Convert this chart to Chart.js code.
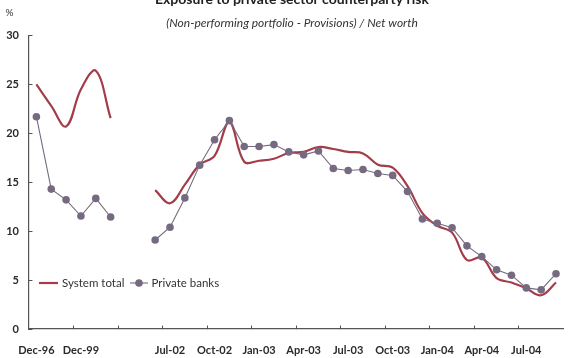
<!DOCTYPE html>
<html>
<head>
<meta charset="utf-8">
<script src="https://cdn.jsdelivr.net/npm/chart.js@4/dist/chart.umd.min.js"></script>
<style>
  html, body { margin: 0; padding: 0; background: #fff; overflow: hidden; }
  #wrap { position: relative; width: 574px; height: 358px; }
</style>
</head>
<body>
<div id="wrap"><canvas id="chart" width="574" height="358"></canvas></div>
<script>
// Annual year-end observations, then a spacer, then monthly observations
const categories = [
  'Dec-96', 'Dec-97', 'Dec-98', 'Dec-99', 'Dec-00', 'Dec-01', '', '',
  'Jun-02', 'Jul-02', 'Aug-02', 'Sep-02', 'Oct-02', 'Nov-02', 'Dec-02',
  'Jan-03', 'Feb-03', 'Mar-03', 'Apr-03', 'May-03', 'Jun-03',
  'Jul-03', 'Aug-03', 'Sep-03', 'Oct-03', 'Nov-03', 'Dec-03',
  'Jan-04', 'Feb-04', 'Mar-04', 'Apr-04', 'May-04', 'Jun-04',
  'Jul-04', 'Aug-04', 'Sep-04'
];

const systemTotal = [
  25.0, 22.8, 20.7, 24.5, 26.4, 21.55, null, null,
  14.2, 12.85, 14.75, 16.8, 17.7, 21.15, 17.1,
  17.2, 17.4, 18.0, 18.1, 18.6, 18.4,
  18.1, 17.95, 16.8, 16.5, 14.6, 11.85,
  10.55, 9.85, 7.05, 7.3, 5.2, 4.75,
  4.15, 3.45, 4.75
];

const privateBanks = [
  21.7, 14.3, 13.2, 11.55, 13.35, 11.45, null, null,
  9.1, 10.4, 13.4, 16.75, 19.35, 21.3, 18.65,
  18.65, 18.85, 18.1, 17.8, 18.2, 16.4,
  16.2, 16.3, 15.9, 15.7, 14.05, 11.25,
  10.8, 10.35, 8.5, 7.4, 6.05, 5.5,
  4.2, 4.0, 5.65
];

const seriesNames = ['System total', 'Private banks'];
const yTicks = [0, 5, 10, 15, 20, 25, 30];

const titleText = 'Exposure to private sector counterparty risk';
const subtitleText = '(Non-performing portfolio - Provisions) / Net worth';
const unitText = '%';

const FONT = "Lato, 'Open Sans', 'DejaVu Sans', sans-serif";
const RED = '#a43d4a';
const PURPLE = '#766a80';
const AXIS = '#555555';
const TEXT = '#2a2a2a';

// Heading, unit marker and the in-plot legend
const annotations = {
  id: 'annotations',
  afterDraw(chart) {
    const ctx = chart.ctx;
    ctx.save();
    ctx.fillStyle = '#222';
    ctx.textAlign = 'center';
    ctx.textBaseline = 'alphabetic';
    ctx.font = 'bold 14px ' + FONT;
    ctx.fillText(titleText, 292, 4);
    ctx.fillStyle = '#333';
    ctx.font = 'italic 12px ' + FONT;
    ctx.fillText(subtitleText, 292, 26.5);
    ctx.font = '10px ' + FONT;
    ctx.fillText(unitText, 9.5, 15.5);

    // legend
    const ds = chart.data.datasets;
    const y = 283;
    ctx.textAlign = 'left';
    ctx.textBaseline = 'middle';
    ctx.font = '11.5px ' + FONT;

    ctx.strokeStyle = ds[0].borderColor;
    ctx.lineWidth = ds[0].borderWidth;
    ctx.beginPath(); ctx.moveTo(39, y); ctx.lineTo(58, y); ctx.stroke();
    ctx.fillStyle = '#333';
    ctx.fillText(ds[0].label, 62, y);

    ctx.strokeStyle = ds[1].borderColor;
    ctx.lineWidth = ds[1].borderWidth;
    ctx.beginPath(); ctx.moveTo(130, y); ctx.lineTo(148, y); ctx.stroke();
    ctx.fillStyle = ds[1].pointBackgroundColor;
    ctx.beginPath(); ctx.arc(139, y, ds[1].pointRadius, 0, Math.PI * 2); ctx.fill();
    ctx.fillStyle = '#333';
    ctx.fillText(ds[1].label, 151.5, y);
    ctx.restore();
  }
};

new Chart(document.getElementById('chart'), {
  type: 'line',
  data: {
    labels: categories,
    datasets: [
      {
        label: seriesNames[0],
        data: systemTotal,
        borderColor: RED,
        borderWidth: 2.2,
        tension: 0.38,
        pointRadius: 0,
        pointHoverRadius: 0,
        spanGaps: false,
        order: 2
      },
      {
        label: seriesNames[1],
        data: privateBanks,
        borderColor: PURPLE,
        borderWidth: 1.1,
        tension: 0,
        pointRadius: 3.8,
        pointBackgroundColor: PURPLE,
        pointBorderColor: PURPLE,
        pointBorderWidth: 0,
        spanGaps: false,
        order: 1
      }
    ]
  },
  options: {
    responsive: false,
    animation: false,
    events: [],
    layout: { padding: { top: 35.5, left: 0, right: 0.7, bottom: 0 } },
    plugins: {
      legend: { display: false },
      title: { display: false },
      tooltip: { enabled: false }
    },
    scales: {
      x: {
        type: 'category',
        offset: true,
        border: { display: true, color: AXIS, width: 1.2 },
        grid: {
          offset: true,
          drawOnChartArea: false,
          drawTicks: true,
          tickLength: -3.5,
          tickWidth: 1,
          color: (c) => (c.index % 3 === 0 ? AXIS : 'rgba(0,0,0,0)')
        },
        ticks: {
          autoSkip: false,
          maxRotation: 0,
          minRotation: 0,
          padding: 18,
          color: TEXT,
          font: { family: FONT, size: 11, weight: 'bold' },
          callback: (v, i) => (i % 3 === 0 ? categories[i] : '')
        },
        afterFit: (s) => { s.height = 29; }
      },
      y: {
        min: 0,
        max: 30,
        border: { display: true, color: AXIS, width: 1.2 },
        grid: {
          drawOnChartArea: false,
          drawTicks: true,
          tickLength: -3.5,
          color: AXIS
        },
        afterBuildTicks: (s) => { s.ticks = yTicks.map(v => ({ value: v })); },
        ticks: {
          padding: 13.5,
          color: TEXT,
          font: { family: FONT, size: 11, weight: 'bold' }
        },
        afterFit: (s) => { s.width = 25; }
      }
    }
  },
  plugins: [annotations]
});
</script>
</body>
</html>
